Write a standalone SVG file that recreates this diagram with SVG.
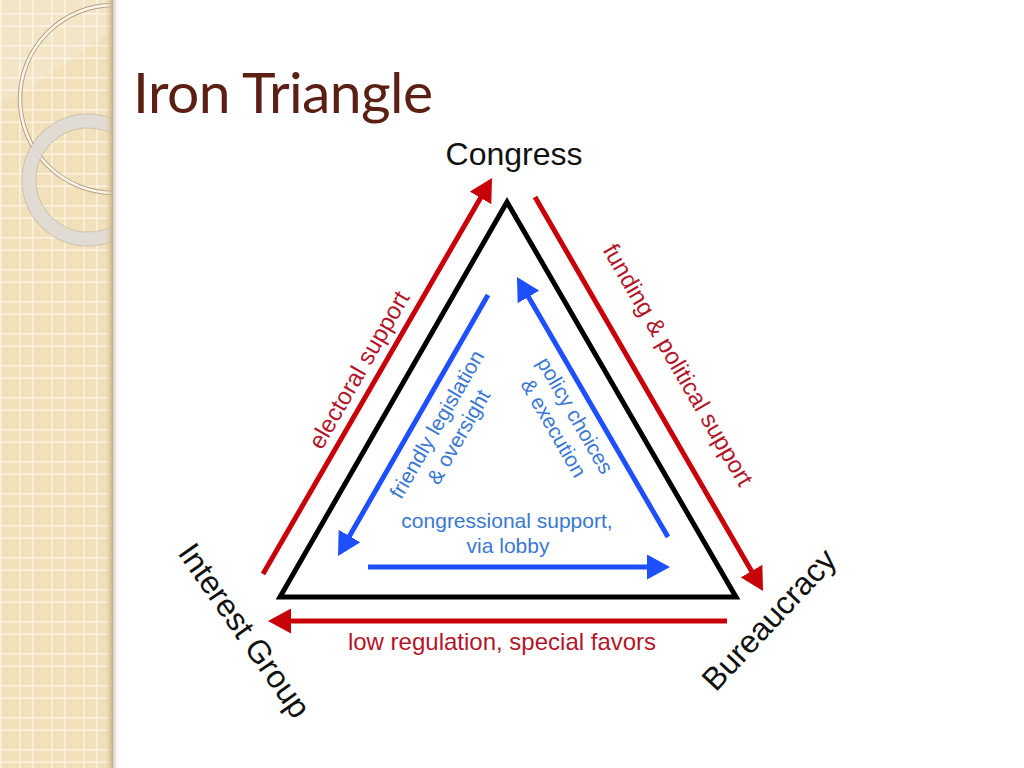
<svg xmlns="http://www.w3.org/2000/svg" width="1024" height="768" viewBox="0 0 1024 768">
  <style>
    .lbl { font-family: "Liberation Sans", Arial, Helvetica, sans-serif; }
    .node { font-size: 32px; fill: #111; }
    .red-t { font-size: 24px; fill: #b3162a; }
    .blue-t { font-size: 21px; fill: #3a78d2; }
    .red-l { stroke: #c8000a; stroke-width: 5; fill: none; }
    .blue-l { stroke: #1d4fff; stroke-width: 5; fill: none; }
    .title { font-family: Lato, "Open Sans", sans-serif; font-size: 57px; fill: #5b1f13; }
  </style>
  <defs>
    <pattern id="grid" x="19" y="13" width="32" height="32" patternUnits="userSpaceOnUse">
      <rect width="32" height="32" fill="#f2e0bb"/>
      <path d="M0.75,0 V32 M13.75,0 V32 M0,0.75 H32 M0,13.25 H32" stroke="#fbf3e2" stroke-width="1.5"/>
    </pattern>
    <linearGradient id="edge" x1="0" y1="0" x2="1" y2="0">
      <stop offset="0" stop-color="#f2e0bb" stop-opacity="0"/>
      <stop offset="1" stop-color="#bfa982"/>
    </linearGradient>
    <linearGradient id="shadow" x1="0" y1="0" x2="1" y2="0">
      <stop offset="0" stop-color="#d6d0c4"/>
      <stop offset="1" stop-color="#ffffff"/>
    </linearGradient>
    <clipPath id="panel"><rect x="0" y="0" width="113" height="768"/></clipPath>
    <marker id="ah-red" viewBox="0 0 23 25" markerWidth="23" markerHeight="25" refX="2" refY="12.5" orient="auto" markerUnits="userSpaceOnUse">
      <path d="M0,0 L23,12.5 L0,25 Z" fill="#c8000a"/>
    </marker>
    <marker id="ah-blue" viewBox="0 0 23 25" markerWidth="23" markerHeight="25" refX="2" refY="12.5" orient="auto" markerUnits="userSpaceOnUse">
      <path d="M0,0 L23,12.5 L0,25 Z" fill="#1d4fff"/>
    </marker>
  </defs>

  <rect width="1024" height="768" fill="#ffffff"/>

  <!-- left decorative panel -->
  <g id="panel-deco">
    <rect x="0" y="0" width="113" height="768" fill="url(#grid)"/>
    <g clip-path="url(#panel)">
      <path d="M0,0 H113 V30 L20,95 L0,100 Z" fill="#ffffff" opacity="0.18"/>
      <circle cx="114" cy="99" r="94" fill="none" stroke="#b6a486" stroke-width="4.5"/>
      <circle cx="114" cy="99" r="94" fill="none" stroke="#faf5ea" stroke-width="2.5"/>
      <circle cx="88" cy="180" r="59" fill="none" stroke="#a9a49a" stroke-width="15" opacity="0.5"/>
      <circle cx="88" cy="180" r="59" fill="none" stroke="#e4e1db" stroke-width="13" opacity="0.85"/>
      <rect x="104" y="0" width="9" height="768" fill="url(#edge)"/>
    </g>
    <rect x="113" y="0" width="5" height="768" fill="url(#shadow)"/>
  </g>

  <text class="title" x="133" y="113" textLength="300" lengthAdjust="spacing">Iron Triangle</text>

  <!-- triangle -->
  <g id="triangle">
    <polygon points="507,202 280,597 736,597" fill="none" stroke="#000" stroke-width="5" stroke-linejoin="miter"/>
  </g>

  <!-- connectors -->
  <g id="connectors">
    <line class="red-l" x1="263" y1="574" x2="481.5" y2="196.2" marker-end="url(#ah-red)"/>
    <line class="red-l" x1="535" y1="197" x2="752.5" y2="572.8" marker-end="url(#ah-red)"/>
    <line class="red-l" x1="727" y1="621" x2="289" y2="621" marker-end="url(#ah-red)"/>
    <line class="blue-l" x1="488" y1="295" x2="348.5" y2="537.8" marker-end="url(#ah-blue)"/>
    <line class="blue-l" x1="668" y1="537" x2="527.5" y2="295.2" marker-end="url(#ah-blue)"/>
    <line class="blue-l" x1="368" y1="567" x2="649" y2="567" marker-end="url(#ah-blue)"/>
  </g>

  <!-- connector labels -->
  <g id="connector-labels" class="lbl">
    <text class="red-t" text-anchor="middle" transform="translate(366,374) rotate(-60)">electoral support</text>
    <text class="red-t" text-anchor="middle" transform="translate(671,369) rotate(60)">funding &amp; political support</text>
    <text class="red-t" text-anchor="middle" x="502" y="650">low regulation, special favors</text>
    <g transform="translate(443,428) rotate(-60)">
      <text class="blue-t" text-anchor="middle" x="0" y="0">friendly legislation</text>
      <text class="blue-t" text-anchor="middle" x="0" y="25">&amp; oversight</text>
    </g>
    <g transform="translate(569,419) rotate(60)">
      <text class="blue-t" text-anchor="middle" x="0" y="0">policy choices</text>
      <text class="blue-t" text-anchor="middle" x="0" y="25">&amp; execution</text>
    </g>
    <text class="blue-t" text-anchor="middle" x="507" y="528">congressional support,</text>
    <text class="blue-t" text-anchor="middle" x="508" y="553">via lobby</text>
  </g>

  <!-- nodes -->
  <g id="node-congress" class="lbl">
    <text class="node" text-anchor="middle" x="514" y="165">Congress</text>
  </g>
  <g id="node-interest-group" class="lbl">
    <text class="node" transform="translate(177,553) rotate(55)">Interest Group</text>
  </g>
  <g id="node-bureaucracy" class="lbl">
    <text class="node" text-anchor="middle" transform="translate(777,627) rotate(-47)">Bureaucracy</text>
  </g>
</svg>
